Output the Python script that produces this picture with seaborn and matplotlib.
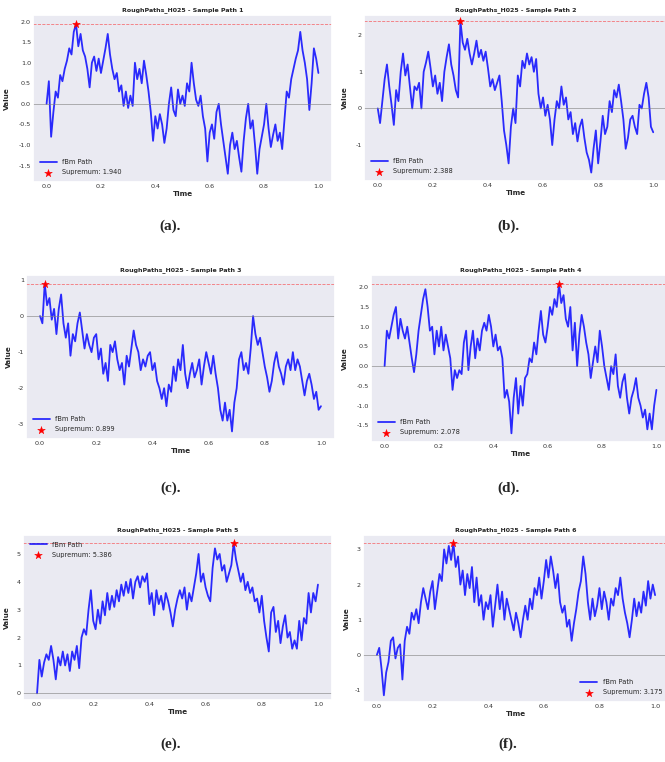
import numpy as np
import pandas as pd
import seaborn as sns
import matplotlib
matplotlib.use("Agg")
import matplotlib.pyplot as plt
from matplotlib.ticker import MultipleLocator

# Sampled fBm paths (H = 0.25), 121 points on [0, 1]
time_grid = np.linspace(0.0, 1.0, 121)

path_1 = [0.0, 0.55, -0.8, -0.2, 0.3, 0.15, 0.7, 0.55, 0.85, 1.05,
          1.35, 1.2, 1.75, 1.94, 1.4, 1.7, 1.3, 1.15, 0.85, 0.4,
          1.0, 1.15, 0.8, 1.1, 0.75, 1.05, 1.35, 1.7, 1.2, 0.85,
          0.6, 0.75, 0.3, 0.45, -0.05, 0.3, -0.1, 0.2, -0.05, 1.0,
          0.6, 0.85, 0.5, 1.05, 0.7, 0.3, -0.2, -0.9, -0.3, -0.6,
          -0.25, -0.5, -0.95, -0.6, 0.0, 0.4, -0.15, -0.3, 0.35, 0.0,
          0.2, -0.05, 0.5, 0.3, 1.0, 0.5, 0.1, -0.05, 0.2, -0.3,
          -0.6, -1.4, -0.7, -0.5, -0.85, -0.2, 0.0, -0.5, -0.9, -1.3,
          -1.7, -1.0, -0.7, -1.1, -0.9, -1.3, -1.65, -0.9, -0.35, 0.0,
          -0.6, -0.4, -1.0, -1.7, -1.1, -0.8, -0.5, 0.0, -0.6, -1.05,
          -0.75, -0.5, -0.9, -0.7, -1.1, -0.4, 0.3, 0.15, 0.6, 0.85,
          1.1, 1.3, 1.75, 1.3, 1.0, 0.6, -0.15, 0.5, 1.35, 1.1, 0.75]

path_2 = [0.0, -0.4, 0.2, 0.8, 1.2, 0.6, 0.1, -0.45, 0.5, 0.2,
          1.0, 1.5, 0.9, 1.2, 0.6, 0.0, 0.6, 0.5, 0.7, 0.0,
          1.0, 1.25, 1.55, 1.1, 0.6, 0.9, 0.4, 0.7, 0.2, 1.0,
          1.4, 1.75, 1.2, 0.9, 0.5, 0.3, 2.388, 1.8, 1.6, 1.9,
          1.5, 1.2, 1.5, 1.85, 1.4, 1.6, 1.3, 1.55, 1.1, 0.6,
          0.8, 0.5, 0.7, 0.9, 0.2, -0.6, -1.0, -1.5, -0.5, 0.0,
          -0.4, 0.9, 0.6, 1.3, 1.1, 1.5, 1.2, 1.4, 1.0, 1.35,
          0.4, 0.0, 0.3, -0.2, 0.1, -0.3, -1.0, -0.3, 0.2, 0.0,
          0.6, 0.1, 0.3, -0.3, -0.1, -0.7, -0.4, -0.9, -0.5, -0.3,
          -0.8, -1.2, -1.4, -1.75, -1.1, -0.6, -1.5, -0.9, -0.2, -0.7,
          -0.5, 0.2, -0.1, 0.5, 0.3, 0.65, 0.2, -0.3, -1.1, -0.8,
          -0.3, -0.2, -0.5, -0.7, 0.1, 0.0, 0.4, 0.7, 0.3, -0.5, -0.65]

path_3 = [0.0, -0.2, 0.899, 0.3, 0.5, -0.1, 0.2, -0.5, 0.2, 0.6,
          -0.2, -0.6, -0.2, -1.1, -0.5, -0.7, -0.2, 0.1, -0.4, -0.9,
          -0.5, -0.8, -1.0, -0.6, -0.5, -1.2, -0.9, -1.6, -1.3, -1.8,
          -0.8, -1.0, -0.7, -1.2, -1.5, -1.3, -1.9, -1.1, -1.4, -0.9,
          -0.4, -0.8, -1.0, -1.5, -1.2, -1.4, -1.1, -1.0, -1.5, -1.3,
          -1.8, -2.0, -2.3, -2.0, -2.5, -1.9, -2.1, -1.4, -1.8, -1.2,
          -1.5, -0.8, -1.6, -2.0, -1.6, -1.3, -1.7, -1.5, -1.2, -1.9,
          -1.4, -1.0, -1.3, -1.6, -1.1, -1.6, -2.0, -2.6, -2.9, -2.4,
          -2.9, -2.6, -3.2, -2.4, -2.0, -1.2, -1.0, -1.5, -1.3, -1.6,
          -0.9, 0.0, -0.5, -0.8, -0.6, -1.0, -1.4, -1.7, -2.1, -1.8,
          -1.3, -1.0, -1.4, -1.6, -1.9, -1.4, -1.2, -1.5, -1.0, -1.5,
          -1.2, -1.4, -1.8, -2.2, -1.8, -1.6, -1.9, -2.3, -2.1, -2.6, -2.5]

path_4 = [0.0, 0.9, 0.7, 1.0, 1.3, 1.5, 0.7, 1.2, 0.9, 0.7,
          1.0, 0.6, 0.2, -0.15, 0.3, 0.9, 1.3, 1.7, 1.95, 1.5,
          0.9, 1.0, 0.3, 0.9, 0.5, 1.0, 0.4, 0.8, 0.5, 0.2,
          -0.6, -0.1, -0.3, -0.1, -0.2, 0.6, 0.9, -0.1, 0.5, 0.9,
          0.2, 0.7, 0.4, 0.9, 1.1, 0.9, 1.3, 1.0, 0.5, 0.8,
          0.4, 0.5, 0.2, -0.8, -0.6, -0.9, -1.7, -0.8, -0.3, -1.2,
          -0.5, -1.0, -0.3, -0.2, 0.2, 0.1, 0.6, 0.3, 0.9, 1.4,
          0.8, 0.6, 1.0, 1.5, 1.3, 1.7, 1.5, 2.078, 1.6, 1.8,
          1.2, 1.0, 1.5, 0.4, 1.1, 0.0, 0.8, 1.3, 1.0, 0.6,
          0.3, -0.3, 0.1, 0.5, 0.1, 0.9, 0.5, 0.0, -0.3, -0.6,
          0.0, -0.2, 0.3, -0.5, -0.8, -0.4, -0.2, -0.8, -1.2, -0.8,
          -0.6, -0.3, -0.8, -1.0, -1.3, -1.1, -1.6, -1.2, -1.6, -1.0, -0.6]

path_5 = [0.0, 1.2, 0.6, 1.1, 1.4, 1.2, 1.7, 1.2, 0.5, 1.3,
          1.0, 1.5, 1.0, 1.4, 0.8, 1.5, 1.2, 1.7, 0.9, 2.0,
          2.3, 2.1, 3.0, 3.7, 2.6, 2.3, 3.0, 2.5, 3.3, 2.8,
          3.6, 3.0, 3.5, 3.1, 3.7, 3.3, 3.9, 3.5, 4.0, 3.6,
          4.1, 3.4, 4.0, 4.2, 3.8, 4.2, 4.0, 4.3, 3.2, 3.6,
          2.8, 3.7, 3.2, 3.5, 3.0, 3.6, 3.3, 2.9, 2.4, 3.0,
          3.4, 3.7, 3.4, 3.8, 3.0, 3.6, 3.3, 3.8, 4.3, 5.0,
          4.0, 4.3, 3.8, 3.5, 3.3, 4.5, 5.2, 4.8, 5.0, 4.4,
          4.6, 4.0, 4.3, 4.6, 5.386, 4.8, 4.4, 4.0, 4.3, 3.7,
          4.0, 3.6, 3.8, 3.3, 3.4, 2.9, 3.5, 2.6, 2.0, 1.5,
          2.9, 3.1, 2.2, 2.6, 1.8, 2.4, 2.8, 2.0, 2.2, 1.6,
          1.9, 1.6, 2.6, 1.9, 2.7, 2.5, 3.6, 2.9, 3.6, 3.3, 3.9]

path_6 = [0.0, 0.2, -0.4, -1.15, -0.5, -0.2, 0.4, 0.5, -0.1, 0.2,
          0.3, -0.7, 0.4, 0.8, 0.6, 1.2, 1.0, 1.3, 0.9, 1.5,
          1.9, 1.6, 1.3, 1.8, 2.1, 1.3, 1.8, 2.3, 2.1, 3.0,
          2.6, 3.1, 2.7, 3.175, 2.5, 2.8, 2.0, 2.4, 1.7, 2.3,
          1.9, 2.5, 1.5, 2.2, 1.4, 1.7, 1.0, 1.5, 1.3, 1.7,
          0.8, 1.4, 2.0, 1.3, 1.8, 1.0, 1.6, 1.3, 1.0, 0.7,
          1.2, 0.9, 0.5, 1.0, 1.4, 1.0, 1.6, 1.3, 1.9, 1.7,
          2.2, 1.6, 2.1, 2.7, 2.2, 2.8, 2.4, 1.9, 2.3, 1.5,
          1.2, 1.4, 0.8, 1.0, 0.4, 0.9, 1.3, 1.8, 2.1, 2.8,
          2.3, 1.5, 1.0, 1.6, 1.1, 1.4, 1.9, 1.3, 1.8, 1.5,
          1.0, 1.6, 1.4, 1.9, 1.7, 2.2, 1.6, 1.2, 0.9, 0.5,
          1.0, 1.6, 1.1, 1.5, 1.2, 1.8, 1.4, 2.1, 1.6, 2.0, 1.7]

paths = [path_1, path_2, path_3, path_4, path_5, path_6]
panel_letters = ["a", "b", "c", "d", "e", "f"]
legend_spots = ["lower left", "lower left", "lower left",
                "lower left", "upper left", "lower right"]

sns.set_theme(style="dark")
plt.rcParams["font.family"] = ["DejaVu Sans"]
plt.rcParams["axes.unicode_minus"] = False

W, H = 665, 762
fig = plt.figure(figsize=(W / 100, H / 100), dpi=100)

# axes boxes in pixels: left, right, top, bottom
boxes = [
    (33, 332, 15, 182),
    (364, 667, 15, 181),
    (26, 335, 275, 439),
    (371, 670, 275, 442),
    (23, 332, 535, 700),
    (363, 669, 535, 702),
]
ylims = [(-1.90, 2.16), (-1.98, 2.55), (-3.41, 1.14),
         (-1.92, 2.31), (-0.24, 5.68), (-1.34, 3.41)]
ysteps = [0.5, 1, 1, 0.5, 1, 1]
ylabel_x = [10, 348, 12, 348, 10, 350]
caption_pos = [(170, 226), (508, 226), (171, 488),
               (508, 488), (171, 744), (508, 744)]

for k, values in enumerate(paths):
    left, right, top, bottom = boxes[k]
    ax = fig.add_axes([left / W, 1 - bottom / H,
                       (right - left) / W, (bottom - top) / H])
    df = pd.DataFrame({"Time": time_grid, "Value": values})
    sns.lineplot(data=df, x="Time", y="Value", ax=ax, color="blue",
                 linewidth=1.3, alpha=0.82, label="fBm Path")

    peak = int(np.argmax(df["Value"].to_numpy()))
    sup_t = df["Time"].iloc[peak]
    sup_v = df["Value"].iloc[peak]
    ax.axhline(sup_v, color="red", linestyle="--", linewidth=0.6, alpha=0.5)
    ax.axhline(0.0, color="gray", linewidth=0.7, alpha=0.6)
    sns.scatterplot(x=[sup_t], y=[sup_v], ax=ax, color="red", marker="*",
                    s=34, edgecolor="red", linewidth=0.3, zorder=5,
                    label=f"Supremum: {sup_v:.3f}")

    ax.set_xlim(-0.05, 1.05)
    ax.set_ylim(*ylims[k])
    ax.xaxis.set_major_locator(MultipleLocator(0.2))
    ax.yaxis.set_major_locator(MultipleLocator(ysteps[k]))
    ax.tick_params(labelsize=4.6, pad=1.5, length=0, colors="#333333")
    ax.set_title(f"RoughPaths_H025 - Sample Path {k + 1}",
                 fontsize=4.5, fontweight="bold", pad=3)
    ax.set_xlabel("Time", fontsize=5.2, fontweight="bold", labelpad=1.5)
    ax.set_ylabel("Value", fontsize=5.2, fontweight="bold")
    ax.yaxis.set_label_coords((ylabel_x[k] - left) / (right - left), 0.5)
    ax.legend(loc=legend_spots[k], fontsize=4.8, frameon=False,
              handlelength=2.6, borderaxespad=0.6, labelspacing=0.6)

    cx, cy = caption_pos[k]
    fig.text(cx / W, 1 - cy / H, f"({panel_letters[k]}).",
             ha="center", va="center", fontsize=11, fontweight="bold",
             family=["Liberation Serif", "DejaVu Serif"])

fig.savefig("out.png", dpi=100)
